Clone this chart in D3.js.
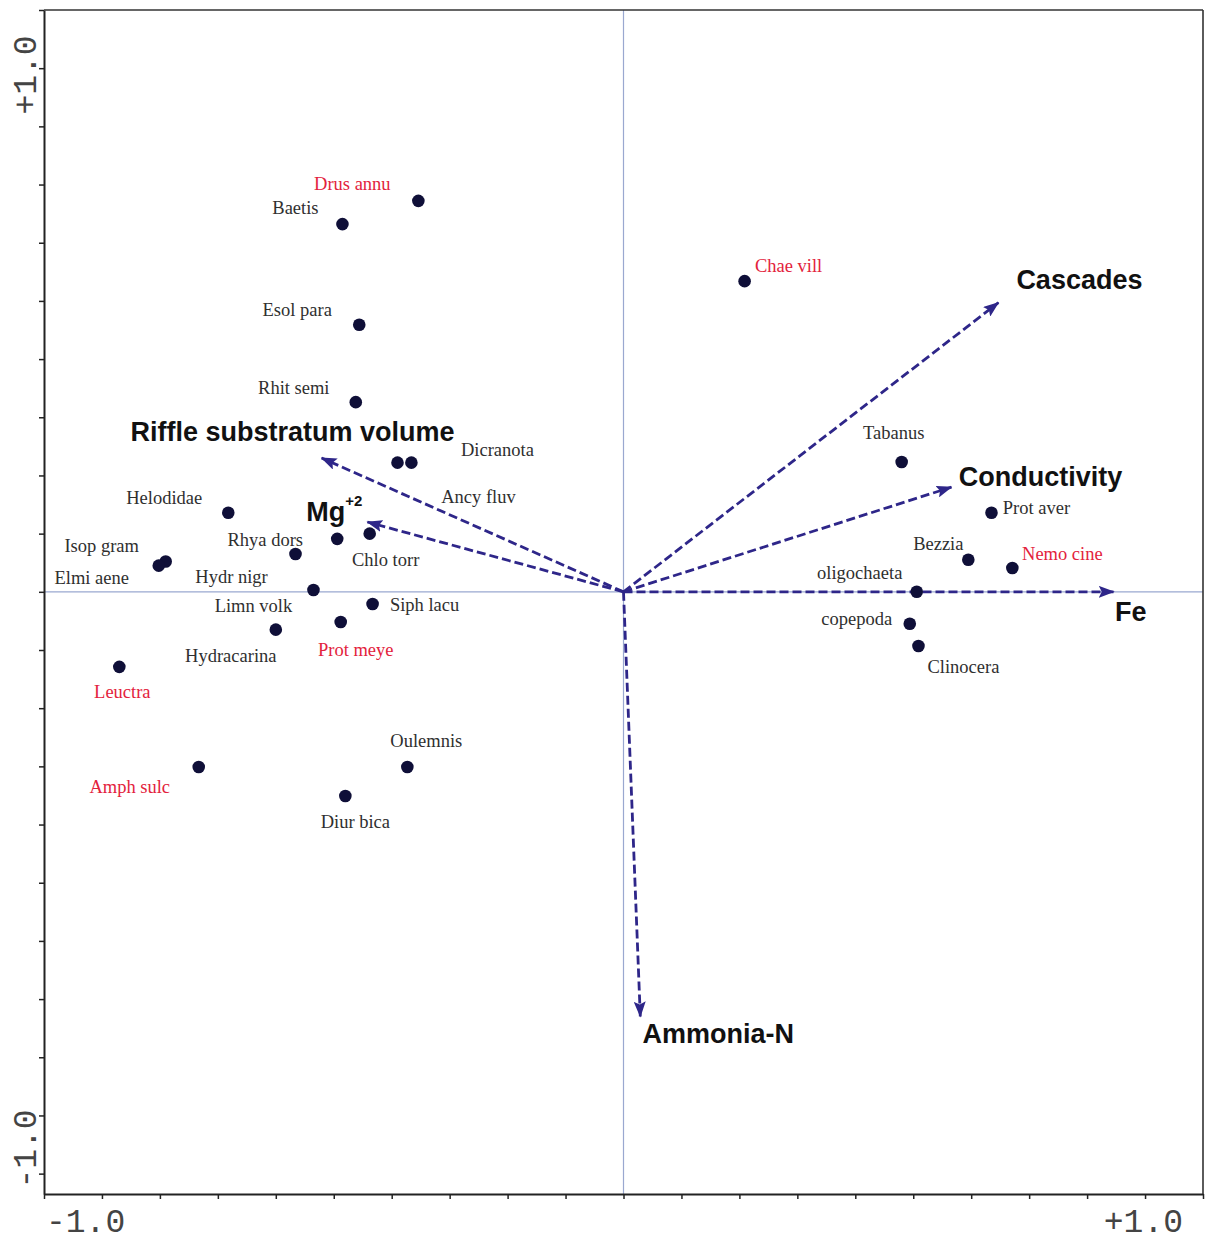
<!DOCTYPE html>
<html>
<head>
<meta charset="utf-8">
<script src="https://cdn.jsdelivr.net/npm/d3@7"></script>
<style>
  html, body { margin: 0; padding: 0; background: #ffffff; }
  svg { display: block; }
</style>
</head>
<body>
<svg id="chart" width="1213" height="1243"></svg>
<script>
// CCA ordination biplot: species scores (points) and environmental variables (arrows)

// Species names, scores on axis 1 and axis 2, and highlighted (red) taxa
const speciesNames = [
  "Drus annu", "Baetis", "Esol para", "Rhit semi", "Dicranota", "Ancy fluv",
  "Helodidae", "Isop gram", "Elmi aene", "Rhya dors", "Chlo torr", "Hydr nigr",
  "Limn volk", "Siph lacu", "Hydracarina", "Prot meye", "Leuctra", "Amph sulc",
  "Oulemnis", "Diur bica", "Chae vill", "Tabanus", "Prot aver", "Bezzia",
  "Nemo cine", "oligochaeta", "copepoda", "Clinocera"
];
const speciesAxis1 = [
  -0.354, -0.485, -0.456, -0.462, -0.366, -0.390,
  -0.682, -0.790, -0.802, -0.494, -0.438, -0.566,
  -0.535, -0.433, -0.600, -0.488, -0.870, -0.733,
  -0.373, -0.480, 0.209, 0.480, 0.635, 0.595,
  0.671, 0.506, 0.494, 0.509
];
const speciesAxis2 = [
  0.672, 0.632, 0.459, 0.326, 0.222, 0.222,
  0.136, 0.052, 0.045, 0.091, 0.100, 0.065,
  0.003, -0.021, -0.065, -0.052, -0.129, -0.301,
  -0.301, -0.351, 0.534, 0.223, 0.136, 0.055,
  0.041, 0.000, -0.055, -0.093
];
const highlighted = ["Drus annu", "Prot meye", "Leuctra", "Amph sulc", "Chae vill", "Nemo cine"];

// Environmental variables and their biplot arrow coordinates
const envNames = ["Cascades", "Conductivity", "Fe", "Ammonia-N", "Riffle substratum volume", "Mg"];
const envAxis1 = [0.647, 0.566, 0.846, 0.029, -0.521, -0.442];
const envAxis2 = [0.497, 0.180, 0.000, -0.730, 0.230, 0.120];

// Axis end labels
const xTickLabels = ["-1.0", "+1.0"];
const yTickLabels = ["-1.0", "+1.0"];

// Label placement around each point (pixel offset of the label centre from the dot)
const speciesLabelOffset = {
  "Drus annu": [-66, -17], "Baetis": [-47, -16], "Esol para": [-62, -15],
  "Rhit semi": [-62, -14], "Dicranota": [86, -13], "Ancy fluv": [81, 34],
  "Helodidae": [-64, -15], "Isop gram": [-64, -16], "Elmi aene": [-67, 12],
  "Rhya dors": [-72, 1], "Chlo torr": [16, 26], "Hydr nigr": [-64, 23],
  "Limn volk": [-60, 16], "Siph lacu": [52, 1], "Hydracarina": [-45, 26],
  "Prot meye": [15, 28], "Leuctra": [3, 25], "Amph sulc": [-69, 20],
  "Oulemnis": [19, -26], "Diur bica": [10, 26], "Chae vill": [44, -15],
  "Tabanus": [-8, -29], "Prot aver": [45, -5], "Bezzia": [-30, -16],
  "Nemo cine": [50, -14], "oligochaeta": [-57, -19], "copepoda": [-53, -5],
  "Clinocera": [45, 21]
};
const envLabelOffset = {
  "Cascades": [81, -23], "Conductivity": [89, -10], "Fe": [17, 20],
  "Ammonia-N": [78, 17], "Riffle substratum volume": [-29, -26], "Mg": [-33, -10]
};

const svg = d3.select("#chart");
const plotLeft = 44, plotRight = 1203, plotTop = 10, plotBottom = 1194;

const x = d3.scaleLinear().domain([-1, 1]).range([plotLeft, plotRight]);
const y = d3.scaleLinear().domain([-1.035, 1]).range([plotBottom, plotTop]);

const arrowColor = "#2e2689";
const dotColor = "#0f0f38";
const textColor = "#2f2f2f";
const redColor = "#e3223c";

// Cross-hair through the origin
svg.append("line")
  .attr("x1", x(0)).attr("x2", x(0)).attr("y1", plotTop).attr("y2", plotBottom)
  .attr("stroke", "#9aa8d0").attr("stroke-width", 1.2);
svg.append("line")
  .attr("x1", plotLeft).attr("x2", plotRight).attr("y1", y(0)).attr("y2", y(0))
  .attr("stroke", "#9aa8d0").attr("stroke-width", 1.2);

// Frame with ticks every 0.1
const tickVals = d3.range(-10, 11).map(i => i / 10);
const xAxis = svg.append("g").attr("transform", `translate(0,${plotBottom})`)
  .call(d3.axisBottom(x).tickValues(tickVals).tickFormat("").tickSizeInner(5).tickSizeOuter(0));
const yTickVals = tickVals.filter(v => v >= y.domain()[0]);
const yAxis = svg.append("g").attr("transform", `translate(${plotLeft},0)`)
  .call(d3.axisLeft(y).tickValues(yTickVals).tickFormat("").tickSizeInner(5).tickSizeOuter(0));
[xAxis, yAxis].forEach(g => {
  g.select(".domain").attr("stroke", "#222").attr("stroke-width", 2);
  g.selectAll(".tick line").attr("stroke", "#222").attr("stroke-width", 1.5);
});
svg.append("line").attr("x1", plotLeft).attr("x2", plotRight).attr("y1", plotTop).attr("y2", plotTop)
  .attr("stroke", "#333").attr("stroke-width", 1.6);
svg.append("line").attr("x1", plotRight).attr("x2", plotRight).attr("y1", plotTop).attr("y2", plotBottom)
  .attr("stroke", "#333").attr("stroke-width", 1.6);

// Axis end labels in a typewriter face
const monoFont = "'Liberation Mono', 'DejaVu Sans Mono', monospace";
svg.append("text").attr("x", x(-1) + 2).attr("y", plotBottom + 38)
  .attr("font-family", monoFont).attr("font-size", 33).attr("fill", "#444")
  .attr("text-anchor", "start").text(xTickLabels[0]);
svg.append("text").attr("x", x(1) - 20).attr("y", plotBottom + 38)
  .attr("font-family", monoFont).attr("font-size", 33).attr("fill", "#444")
  .attr("text-anchor", "end").text(xTickLabels[1]);
svg.append("text").attr("transform", `translate(36,${y(1) + 65}) rotate(-90)`)
  .attr("font-family", monoFont).attr("font-size", 33).attr("fill", "#444")
  .attr("text-anchor", "middle").text(yTickLabels[1]);
svg.append("text").attr("transform", `translate(36,${plotBottom - 45}) rotate(-90)`)
  .attr("font-family", monoFont).attr("font-size", 33).attr("fill", "#444")
  .attr("text-anchor", "middle").text(yTickLabels[0]);

// Arrowhead marker
svg.append("defs").append("marker")
  .attr("id", "head").attr("markerUnits", "userSpaceOnUse")
  .attr("viewBox", "0 0 16 12").attr("refX", 15).attr("refY", 6)
  .attr("markerWidth", 16).attr("markerHeight", 12).attr("orient", "auto")
  .append("path").attr("d", "M0,0 L16,6 L0,12 L3,6 Z").attr("fill", arrowColor);

const env = envNames.map((n, i) => ({ name: n, a1: envAxis1[i], a2: envAxis2[i] }));
svg.append("g").selectAll("line").data(env).join("line")
  .attr("x1", x(0)).attr("y1", y(0))
  .attr("x2", d => x(d.a1)).attr("y2", d => y(d.a2))
  .attr("stroke", arrowColor).attr("stroke-width", 2.8)
  .attr("stroke-dasharray", "9,4")
  .attr("marker-end", "url(#head)");

// Environmental labels
const boldFont = "'Liberation Sans', Arial, Helvetica, sans-serif";
const envText = svg.append("g").selectAll("text").data(env).join("text")
  .attr("x", d => x(d.a1) + envLabelOffset[d.name][0])
  .attr("y", d => y(d.a2) + envLabelOffset[d.name][1])
  .attr("text-anchor", "middle").attr("dominant-baseline", "central")
  .attr("font-family", boldFont).attr("font-weight", "bold").attr("font-size", 27)
  .attr("fill", "#111");
envText.filter(d => d.name !== "Mg").text(d => d.name);
const mg = envText.filter(d => d.name === "Mg");
mg.append("tspan").text("Mg");
mg.append("tspan").attr("font-size", 15).attr("dy", -12).text("+2");

// Species points
const species = speciesNames.map((n, i) => ({ name: n, a1: speciesAxis1[i], a2: speciesAxis2[i] }));
svg.append("g").selectAll("circle").data(species).join("circle")
  .attr("cx", d => x(d.a1)).attr("cy", d => y(d.a2))
  .attr("r", 6.3).attr("fill", dotColor);

// Species labels
svg.append("g").selectAll("text").data(species).join("text")
  .attr("x", d => x(d.a1) + speciesLabelOffset[d.name][0])
  .attr("y", d => y(d.a2) + speciesLabelOffset[d.name][1])
  .attr("text-anchor", "middle").attr("dominant-baseline", "central")
  .attr("font-family", "'Liberation Serif', 'Times New Roman', serif")
  .attr("font-size", 18.5)
  .attr("fill", d => highlighted.includes(d.name) ? redColor : textColor)
  .text(d => d.name);
</script>
</body>
</html>
